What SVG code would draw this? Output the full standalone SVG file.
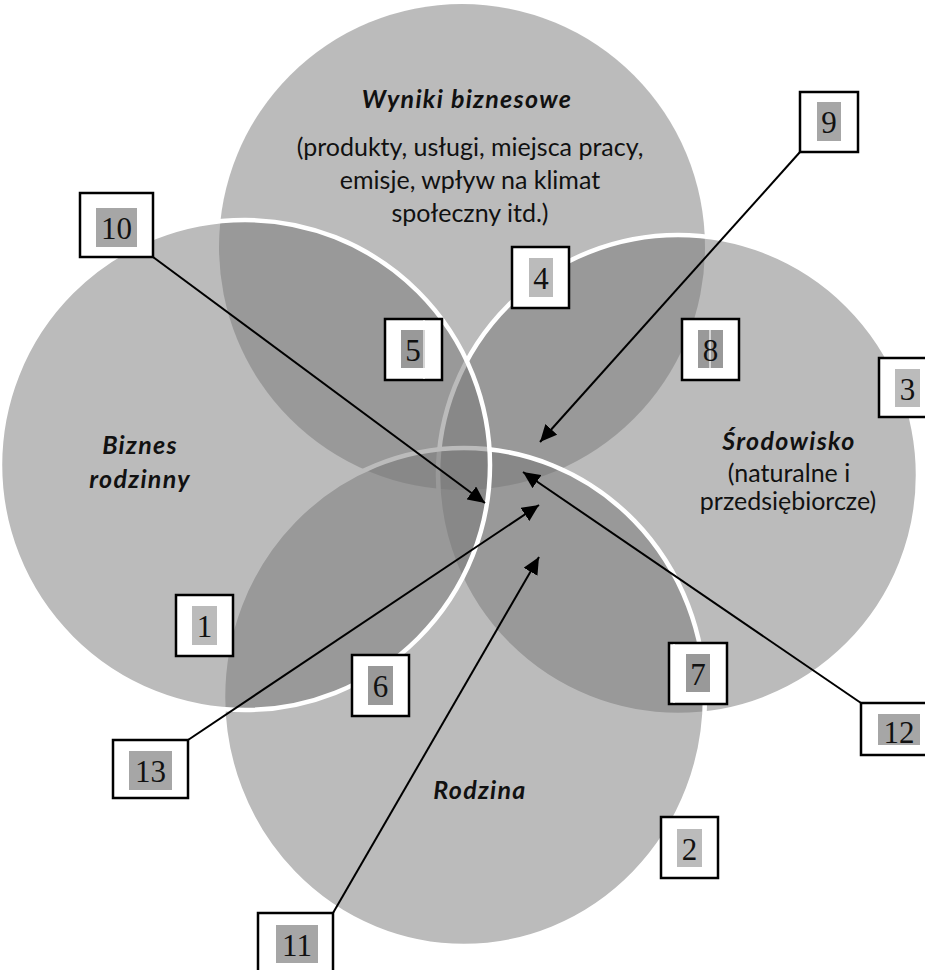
<svg xmlns="http://www.w3.org/2000/svg" width="925" height="970" viewBox="0 0 925 970">
<style>
.c{fill:#777;fill-opacity:0.5}
.cs{fill:#777;fill-opacity:0.5;stroke:#fff;stroke-width:4.5}
.box{fill:#fff;stroke:#000;stroke-width:2.5}
.lt{fill:#bbb}.dk{fill:#999}.md{fill:#a6a6a6}
.num{font-family:"Liberation Serif",serif;font-size:31px;fill:#111;text-anchor:middle}
.h{font-family:Lato,"Open Sans",sans-serif;font-size:25px;font-weight:bold;font-style:italic;fill:#111;text-anchor:middle;letter-spacing:1.3px}
.t{font-family:Lato,"Open Sans",sans-serif;font-size:25px;fill:#111;text-anchor:middle}
.ln{stroke:#000;stroke-width:2;fill:none;marker-end:url(#ah)}
.art{stroke:#fff;stroke-width:1.2}
</style>
<defs>
<marker id="ah" markerUnits="userSpaceOnUse" markerWidth="18" markerHeight="16" refX="17" refY="8" orient="auto">
<path d="M0,0 L17,8 L0,16 Z" fill="#000"/>
</marker>
</defs>
<rect width="925" height="970" fill="#fff"/>
<g id="circles">
<circle id="c-wyniki" class="c" cx="462" cy="247" r="243"/>
<circle id="c-srodowisko" class="cs" cx="678" cy="475" r="240"/>
<ellipse id="c-rodzina" class="cs" cx="464" cy="697" rx="241" ry="249"/>
<circle id="c-biznes" class="cs" cx="245" cy="465" r="245"/>
</g>
<g id="labels">
<g id="wyniki">
<text class="h" x="467" y="108">Wyniki biznesowe</text>
<text class="t" x="470" y="156">(produkty, usługi, miejsca pracy,</text>
<text class="t" x="470" y="189">emisje, wpływ na klimat</text>
<text class="t" x="470" y="222">społeczny itd.)</text>
</g>
<g id="biznes">
<text class="h" x="140" y="454">Biznes</text>
<text class="h" x="140" y="488">rodzinny</text>
</g>
<g id="srodowisko">
<text class="h" x="789" y="450">Środowisko</text>
<text class="t" x="789" y="482">(naturalne i</text>
<text class="t" x="788" y="510">przedsiębiorcze)</text>
</g>
<g id="rodzina">
<text class="h" x="480" y="799">Rodzina</text>
</g>
</g>
<g id="connectors">
<line class="ln" x1="153" y1="257" x2="485" y2="503"/>
<line class="ln" x1="800" y1="152" x2="540" y2="442"/>
<line class="ln" x1="861" y1="703" x2="523" y2="472"/>
<line class="ln" x1="188" y1="740" x2="539" y2="505"/>
<line class="ln" x1="333" y1="913" x2="539" y2="557"/>
</g>
<g id="n10"><rect class="box" x="80" y="193" width="73" height="64"/><rect class="md" x="96" y="208" width="41" height="39"/><text class="num" x="116.5" y="239">10</text></g>
<g id="n9"><rect class="box" x="800" y="92" width="58" height="60"/><rect class="md" x="817" y="102" width="24" height="39"/><text class="num" x="829" y="133">9</text></g>
<g id="n4"><rect class="box" x="512" y="247" width="57" height="61"/><rect class="lt" x="529" y="258" width="24" height="39"/><text class="num" x="541" y="289">4</text></g>
<g id="n5"><rect class="box" x="385" y="319" width="57" height="61"/><rect class="dk" x="401" y="330" width="24" height="38"/><line class="art" x1="424" y1="320" x2="424" y2="379"/><text class="num" x="413" y="361">5</text></g>
<g id="n8"><rect class="box" x="682" y="319" width="57" height="61"/><rect class="dk" x="698" y="330" width="25" height="38"/><line class="art" x1="710" y1="330" x2="710" y2="368"/><text class="num" x="710.5" y="361">8</text></g>
<g id="n3"><rect class="box" x="879" y="358" width="70" height="59"/><rect class="lt" x="895" y="369" width="25" height="38"/><text class="num" x="907.5" y="400">3</text></g>
<g id="n1"><rect class="box" x="176" y="595" width="57" height="61"/><rect class="lt" x="192" y="606" width="25" height="39"/><text class="num" x="204.5" y="637">1</text></g>
<g id="n6"><rect class="box" x="352" y="655" width="57" height="61"/><rect class="dk" x="368" y="666" width="25" height="39"/><text class="num" x="380.5" y="697">6</text></g>
<g id="n13"><rect class="box" x="113" y="740" width="75" height="58"/><rect class="md" x="129" y="751" width="43" height="39"/><text class="num" x="150.5" y="782">13</text></g>
<g id="n7"><rect class="box" x="669" y="643" width="58" height="61"/><rect class="dk" x="686" y="654" width="24" height="38"/><line class="art" x1="674" y1="644" x2="674" y2="703"/><text class="num" x="698" y="685">7</text></g>
<g id="n12"><rect class="box" x="861" y="703" width="80" height="52"/><rect class="md" x="878" y="714" width="42" height="31"/><text class="num" x="899" y="743">12</text></g>
<g id="n2"><rect class="box" x="661" y="817" width="57" height="61"/><rect class="lt" x="677" y="829" width="25" height="38"/><text class="num" x="689.5" y="860">2</text></g>
<g id="n11"><rect class="box" x="258" y="913" width="75" height="62"/><rect class="md" x="276" y="925" width="42" height="38"/><text class="num" x="297" y="956">11</text></g>
</svg>
